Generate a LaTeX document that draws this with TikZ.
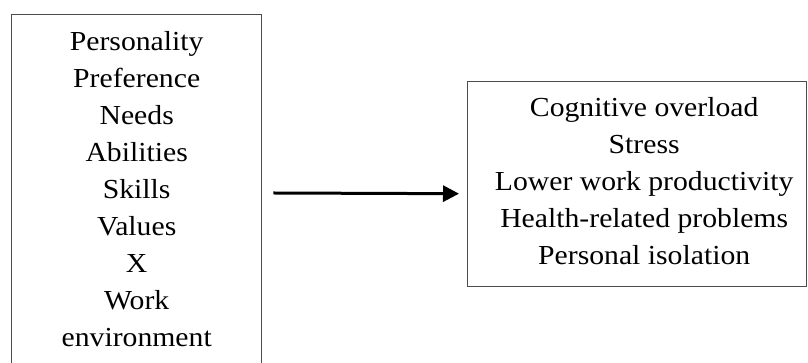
\documentclass[tikz,border=0pt]{standalone}
\usepackage{fontspec}
\setmainfont{Liberation Serif}[FakeStretch=1.08]
\usetikzlibrary{arrows.meta, positioning}

\begin{document}
\begin{tikzpicture}[x=1pt, y=1pt, >={Triangle[length=16pt,width=16pt]},
    box/.style={draw=black!70, line width=1.4pt},
    txt/.style={align=center, inner sep=0pt, font={\fontsize{27.5}{37}\selectfont}}]
      \useasboundingbox (0,0) rectangle (808,363);
      \clip (0,0) rectangle (808,363);

      % boxes
      \node[box, anchor=north west, minimum width=250pt, minimum height=400pt] (factors) at (11,349) {};
      \node[box, anchor=north west, minimum width=339pt, minimum height=205pt] (effects) at (467,282) {};

      % texts
      \node[txt, anchor=north] (factorstext) at ([yshift=-17pt]factors.north)
        {Personality\\Preference\\Needs\\Abilities\\Skills\\Values\\X\\Work\\environment};
      \node[txt] (effectstext) at ([xshift=7pt,yshift=3pt]effects.center)
        {Cognitive overload\\Stress\\Lower work productivity\\Health-related problems\\Personal isolation};

      \draw[->, line width=3pt] ([xshift=11pt]factors.east |- 0,170) -- ([xshift=-8pt,yshift=-9.5pt]effects.west);

    \end{tikzpicture}
\end{document}
